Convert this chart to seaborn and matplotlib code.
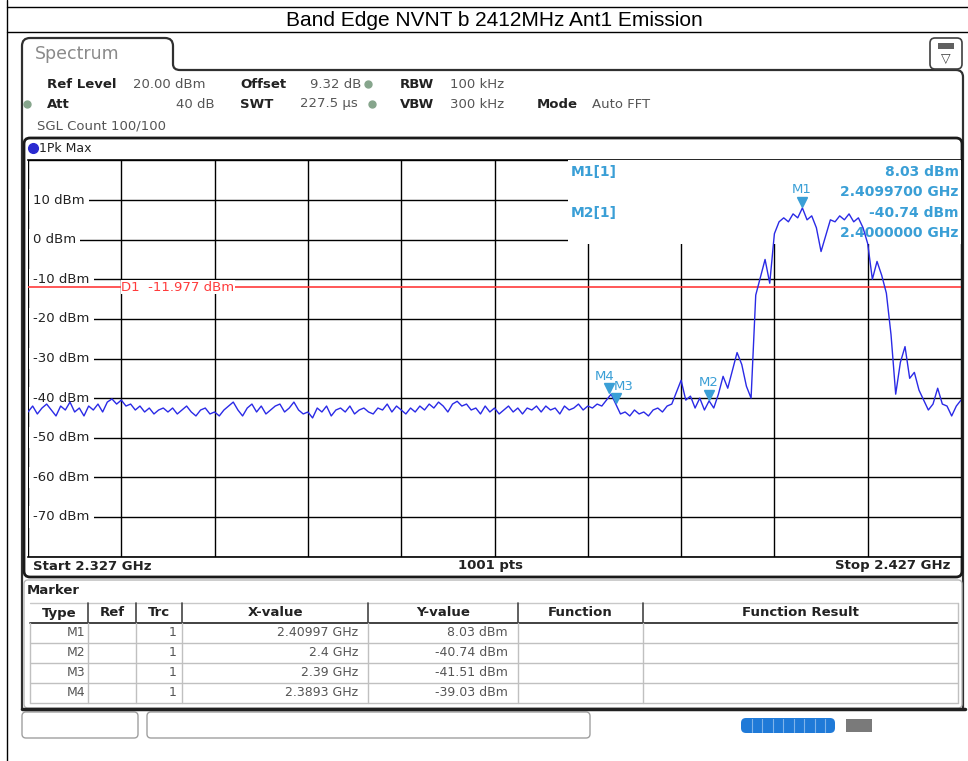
import numpy as np
import seaborn as sns
import matplotlib.pyplot as plt
from matplotlib.patches import FancyBboxPatch, Rectangle, PathPatch
from matplotlib.path import Path
from matplotlib import transforms

# ---- data ----
start_ghz = 2.327
stop_ghz = 2.427
level_dbm = [
    -43.5, -42.0, -44.0, -42.5, -41.5, -43.0, -44.5, -42.0, -43.0, -41.0,
    -43.5, -42.5, -44.5, -42.0, -43.0, -41.5, -43.5, -41.0, -40.2, -41.5,
    -40.5, -42.0, -41.5, -43.0, -42.0, -43.5, -42.5, -44.0, -43.0, -42.5,
    -43.5, -42.5, -44.0, -43.0, -42.0, -43.5, -44.5, -43.0, -42.5, -44.0,
    -43.5, -44.5, -43.0, -42.0, -41.0, -43.0, -44.5, -42.5, -41.5, -43.5,
    -42.0, -44.0, -43.0, -42.0, -41.5, -43.5, -42.5, -41.0, -43.0, -44.0,
    -43.5, -45.0, -42.5, -43.5, -42.0, -44.5, -43.0, -42.5, -43.5, -42.0,
    -44.0, -43.0, -42.5, -43.5, -44.0, -42.5, -43.0, -41.5, -43.5, -42.0,
    -43.0, -44.0, -42.5, -43.5, -42.0, -43.0, -41.5, -42.5, -41.0, -42.0,
    -43.5, -41.5, -40.8, -42.0, -41.5, -43.0, -42.5, -44.0, -42.0, -43.5,
    -42.5, -44.0, -43.0, -42.0, -43.5, -42.5, -44.0, -42.5, -43.0, -42.0,
    -43.5, -42.0, -43.0, -42.5, -44.0, -42.0, -43.0, -42.5, -41.5, -43.0,
    -42.0, -42.5, -41.5, -42.0, -40.5, -39.0, -41.5, -44.0, -43.5, -44.5,
    -43.0, -44.0, -43.5, -44.5, -43.0, -42.5, -43.5, -42.0, -41.5, -38.5,
    -35.5, -40.5, -39.5, -42.5, -40.0, -43.0, -40.7, -42.5, -39.0, -34.5,
    -37.5, -33.0, -28.5, -31.5, -37.0, -40.0, -14.0, -9.5, -5.0, -11.0,
    1.5, 4.5, 5.5, 4.5, 6.5, 5.5, 8.0, 5.0, 6.0, 3.0,
    -3.0, 1.0, 5.0, 4.5, 6.0, 5.0, 6.5, 4.5, 5.5, 3.0,
    -1.0, -10.0, -5.5, -9.0, -13.5, -24.0, -39.0, -31.0, -27.0, -35.0,
    -33.5, -38.0, -40.5, -43.0, -41.5, -37.5, -41.5, -42.0, -44.5, -42.0,
    -40.5,
]
freq_ghz = np.linspace(start_ghz, stop_ghz, len(level_dbm))

marker_names = ['M1', 'M2', 'M3', 'M4']
marker_ghz = [2.40997, 2.4, 2.39, 2.3893]
marker_dbm = [8.03, -40.74, -41.51, -39.03]
marker_xtext = ['2.40997 GHz', '2.4 GHz', '2.39 GHz', '2.3893 GHz']
marker_ytext = ['8.03 dBm', '-40.74 dBm', '-41.51 dBm', '-39.03 dBm']
d1_dbm = -11.977
ylabel_levels = [10, 0, -10, -20, -30, -40, -50, -60, -70]

TRACE = '#2a2ae6'
MCOL = '#3a9fd6'
RED = '#ff3b3b'
TXT = '#222222'
GREY = '#555555'

sns.set_style('white')
plt.rcParams['font.family'] = ['DejaVu Sans']

W, H = 968, 761
fig = plt.figure(figsize=(W / 100, H / 100), dpi=100)

# background canvas in pixel coordinates
bg = fig.add_axes([0, 0, 1, 1])
bg.set_xlim(0, W)
bg.set_ylim(H, 0)
bg.axis('off')

# report table around the screenshot
bg.plot([7, W], [7, 7], color='black', lw=1)
bg.plot([7, W], [32, 32], color='black', lw=1)
bg.plot([7, 7], [0, H], color='black', lw=1)
bg.text(494, 20, 'Band Edge NVNT b 2412MHz Ant1 Emission', ha='center', va='center',
        fontsize=15, family='Liberation Sans', color='black')

# tab outline
verts = [(22, 710), (22, 46), (22, 38), (30, 38), (165, 38), (173, 38), (173, 46),
         (173, 64), (173, 70), (180, 70), (956, 70), (963, 70), (963, 77), (963, 710)]
codes = [Path.MOVETO, Path.LINETO, Path.CURVE3, Path.CURVE3, Path.LINETO, Path.CURVE3,
         Path.CURVE3, Path.LINETO, Path.CURVE3, Path.CURVE3, Path.LINETO, Path.CURVE3,
         Path.CURVE3, Path.LINETO]
bg.add_patch(PathPatch(Path(verts, codes), fill=False, ec='#303030', lw=1.6))
bg.plot([22, 965], [709, 709], color='#202020', lw=2.5)
bg.text(35, 54, 'Spectrum', fontsize=12.5, color='#8a8a8a', va='center')

# top-right icon
bg.add_patch(FancyBboxPatch((930, 38), 32, 31, boxstyle='round,pad=0,rounding_size=5',
                            fc='white', ec='#404040', lw=1.2))
bg.add_patch(Rectangle((938, 43), 16, 6, fc='#606060', ec='none'))
bg.text(946, 59, '▽', ha='center', va='center', fontsize=9, color='#404040')

# settings lines
def lab(x, y, s, bold=False, ha='left', size=9.5):
    bg.text(x, y, s, ha=ha, va='center', fontsize=size,
            fontweight='bold' if bold else 'normal', color=TXT if bold else GREY)

lab(47, 84, 'Ref Level', True)
lab(133, 84, '20.00 dBm')
lab(240, 84, 'Offset', True)
lab(310, 84, '9.32 dB')
lab(400, 84, 'RBW', True)
lab(450, 84, '100 kHz')
lab(47, 104, 'Att', True)
lab(215, 104, '40 dB', ha='right')
lab(240, 104, 'SWT', True)
lab(300, 104, '227.5 µs')
lab(400, 104, 'VBW', True)
lab(450, 104, '300 kHz')
lab(537, 104, 'Mode', True)
lab(592, 104, 'Auto FFT')
lab(37, 126, 'SGL Count 100/100')
for dx, dy in [(27, 104), (368, 84), (372, 104)]:
    bg.plot(dx, dy, 'o', ms=5, color='#86a58c')

# diagram frame
bg.add_patch(FancyBboxPatch((24, 138), 938, 439, boxstyle='round,pad=0,rounding_size=6',
                            fc='white', ec='#1a1a1a', lw=2))
bg.plot(33, 148, 'o', ms=7, color='#2a2ad0')
bg.text(39, 148, '1Pk Max', fontsize=9, va='center', color=TXT)
bg.text(33, 566, 'Start 2.327 GHz', fontsize=9.5, fontweight='bold', va='center', color=TXT)
bg.text(490, 566, '1001 pts', fontsize=9.5, fontweight='bold', va='center', ha='center', color=TXT)
bg.text(950, 566, 'Stop 2.427 GHz', fontsize=9.5, fontweight='bold', va='center', ha='right', color=TXT)

# marker table
bg.add_patch(FancyBboxPatch((24, 580), 938, 128, boxstyle='round,pad=0,rounding_size=4',
                            fc='white', ec='#b8b8b8', lw=1))
bg.text(27, 591, 'Marker', fontsize=9.5, fontweight='bold', va='center', color=TXT)
col_edges = [30, 88, 136, 182, 368, 518, 643, 958]
headers = ['Type', 'Ref', 'Trc', 'X-value', 'Y-value', 'Function', 'Function Result']
bg.plot([30, 958], [603, 603], color='#c8c8c8', lw=1)
bg.plot([30, 958], [622.5, 622.5], color='#333333', lw=1.3)
for k, h in enumerate(headers):
    bg.text((col_edges[k] + col_edges[k + 1]) / 2, 613, h, ha='center', va='center',
            fontsize=9.5, fontweight='bold', color=TXT)
for xe in col_edges[1:-1]:
    bg.plot([xe, xe], [603, 622], color='#444444', lw=1.2)
    bg.plot([xe, xe], [623, 703], color='#c0c0c0', lw=1)
bg.plot([958, 958], [603, 703], color='#c0c0c0', lw=1)
bg.plot([30, 30], [623, 703], color='#c0c0c0', lw=1)
for r in range(4):
    yc = 633 + 20 * r
    bg.plot([30, 958], [yc + 10, yc + 10], color='#c0c0c0', lw=1)
    for xr, s in [(85, marker_names[r]), (177, '1'), (358, marker_xtext[r]), (508, marker_ytext[r])]:
        bg.text(xr, yc, s, ha='right', va='center', fontsize=9, color=GREY)

# status bar
bg.add_patch(FancyBboxPatch((22, 712), 116, 26, boxstyle='round,pad=0,rounding_size=4',
                            fc='white', ec='#a0a0a0', lw=1))
bg.add_patch(FancyBboxPatch((147, 712), 443, 26, boxstyle='round,pad=0,rounding_size=4',
                            fc='white', ec='#a0a0a0', lw=1))
bg.add_patch(FancyBboxPatch((741, 718), 94, 15, boxstyle='round,pad=0,rounding_size=5',
                            fc='#1f7ad8', ec='none'))
for k in range(1, 9):
    bg.plot([741 + k * 10.5, 741 + k * 10.5], [719, 732], color='#7fb3ea', lw=0.8)
bg.add_patch(Rectangle((846, 719), 26, 13, fc='#7a7a7a', ec='none'))

# ---- the spectrum plot ----
x0, x1, ytop, ybot = 28, 961, 160.4, 556.6
ax = fig.add_axes([x0 / W, 1 - ybot / H, (x1 - x0) / W, (ybot - ytop) / H])
ax.set_facecolor('white')
sns.lineplot(x=freq_ghz, y=level_dbm, ax=ax, color=TRACE, linewidth=1, sort=False, zorder=6)
ax.set_xlim(start_ghz, stop_ghz)
ax.set_ylim(-80, 20)
ax.set_xticks(np.linspace(start_ghz, stop_ghz, 11))
ax.set_yticks(np.arange(-80, 21, 10))
ax.grid(True, color='black', lw=1)
ax.tick_params(length=0, labelbottom=False, labelleft=False)
ax.set_xlabel('')
ax.set_ylabel('')
for side in ['left', 'right']:
    ax.spines[side].set_visible(False)
for side in ['top', 'bottom']:
    ax.spines[side].set_color('black')
    ax.spines[side].set_linewidth(1.2)

# y labels inside the grid
lab_tr = transforms.blended_transform_factory(ax.transAxes, ax.transData)
for v in ylabel_levels:
    ax.text(0.0055, v, f'{v} dBm', transform=lab_tr, ha='left', va='center', fontsize=9.5,
            color=TXT, zorder=4, bbox=dict(fc='white', ec='none', pad=3))

# display line D1
ax.axhline(d1_dbm, color=RED, lw=1.2, zorder=4.5)
ax.text(0.1, d1_dbm, f'D1  {d1_dbm:.3f} dBm', transform=lab_tr, ha='left', va='center',
        fontsize=9.5, color=RED, zorder=5, bbox=dict(fc='white', ec='none', pad=0.5))

# marker readout box (covers the grid in the upper right)
ax.add_patch(Rectangle(((568 - x0) / (x1 - x0), (ybot - 244) / (ybot - ytop)),
                       1, 1, transform=ax.transAxes, fc='white', ec='none', zorder=3))
rd = dict(transform=ax.transAxes, fontsize=10, fontweight='bold', color=MCOL, zorder=5, va='center')
ax.text((571 - x0) / (x1 - x0), (ybot - 172) / (ybot - ytop), f'{marker_names[0]}[1]', **rd)
ax.text((571 - x0) / (x1 - x0), (ybot - 213) / (ybot - ytop), f'{marker_names[1]}[1]', **rd)
ax.text(0.9975, (ybot - 172) / (ybot - ytop), f'{marker_dbm[0]:.2f} dBm', ha='right', **rd)
ax.text(0.9975, (ybot - 192) / (ybot - ytop), f'{marker_ghz[0]:.7f} GHz', ha='right', **rd)
ax.text(0.9975, (ybot - 213) / (ybot - ytop), f'{marker_dbm[1]:.2f} dBm', ha='right', **rd)
ax.text(0.9975, (ybot - 233) / (ybot - ytop), f'{marker_ghz[1]:.7f} GHz', ha='right', **rd)

# markers
tri_tr = transforms.offset_copy(ax.transData, fig=fig, x=0, y=4.5, units='points')
ax.plot(marker_ghz, marker_dbm, 'v', ms=7, color=MCOL, transform=tri_tr, zorder=7)
label_dx = {'M3': 6, 'M4': -3}
for name, mx, my in zip(marker_names, marker_ghz, marker_dbm):
    ax.annotate(name, (mx, my), xytext=(label_dx.get(name, 0), 13), textcoords='offset points',
                ha='center', va='center', fontsize=9.5, color=MCOL, zorder=7)

fig.savefig('out.png', dpi=100)
